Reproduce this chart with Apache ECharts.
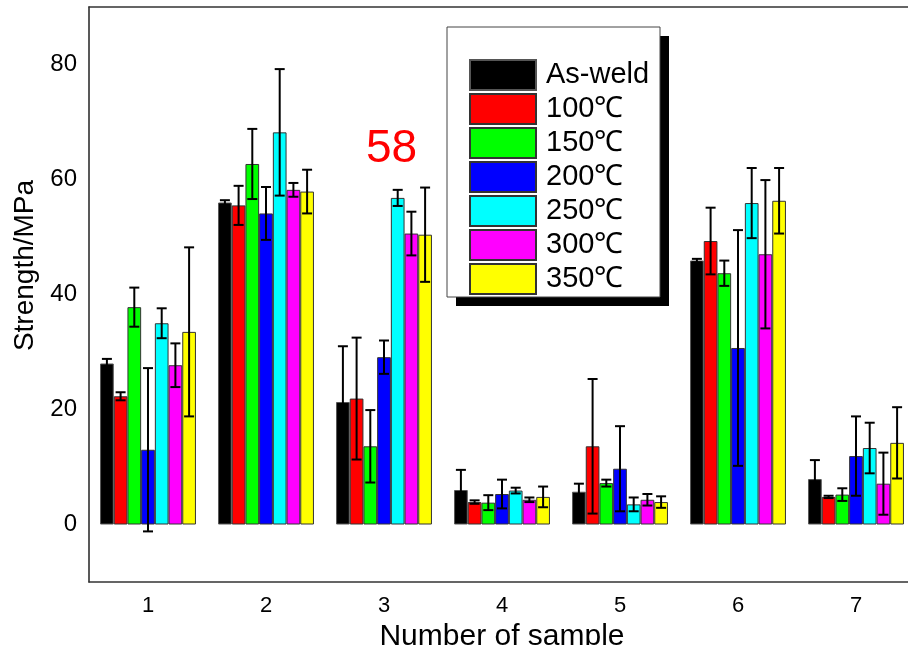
<!DOCTYPE html>
<html>
<head>
<meta charset="utf-8">
<script src="https://cdn.jsdelivr.net/npm/echarts@6/dist/echarts.min.js"></script>
<style>
  html, body { margin: 0; padding: 0; background: #fff; }
  #chart { width: 908px; height: 645px; }
</style>
</head>
<body>
<div id="chart"></div>
<script>
// sample numbers on the x axis
const samples = ['1', '2', '3', '4', '5', '6', '7']
const names = ['As-weld', '100\u2103', '150\u2103', '200\u2103', '250\u2103', '300\u2103', '350\u2103']
const colors = ['#000000', '#ff0000', '#00ff00', '#0000ff', '#00ffff', '#ff00ff', '#ffff00']

// mean strength (MPa) for each treatment
const asWeld = [28.0, 56.0, 21.3, 6.0, 5.7, 45.9, 7.9]
const t100 = [22.3, 55.5, 21.9, 3.9, 13.6, 49.3, 4.8]
const t150 = [37.8, 62.7, 13.6, 3.8, 7.2, 43.7, 5.2]
const t200 = [13.0, 54.1, 29.1, 5.3, 9.7, 30.7, 11.9]
const t250 = [35.0, 68.2, 56.8, 5.9, 3.5, 55.9, 13.3]
const t300 = [27.7, 58.2, 50.6, 4.3, 4.3, 47.0, 7.1]
const t350 = [33.5, 57.9, 50.4, 4.8, 3.9, 56.3, 14.2]

// error (+/-) for each treatment
const errAsWeld = [0.8, 0.4, 9.7, 3.5, 1.4, 0.3, 3.3]
const err100 = [0.7, 3.4, 10.6, 0.3, 11.7, 5.8, 0.2]
const err150 = [3.4, 6.1, 6.3, 1.3, 0.6, 2.2, 1.1]
const err200 = [14.2, 4.6, 2.9, 2.5, 7.4, 20.5, 6.9]
const err250 = [2.6, 11.0, 1.4, 0.5, 1.2, 6.1, 4.4]
const err300 = [3.8, 1.2, 3.8, 0.4, 1.0, 12.9, 5.4]
const err350 = [14.7, 3.8, 8.2, 1.8, 1.0, 5.7, 6.2]

const yTicks = [0, 20, 40, 60, 80]

const values = [asWeld, t100, t150, t200, t250, t300, t350]
const errors = [errAsWeld, err100, err150, err200, err250, err300, err350]

const barW = 13.7
const font = 'Liberation Sans, Arial, sans-serif'

const chart = echarts.init(document.getElementById('chart'))

const barSeries = names.map((n, i) => ({
  name: n,
  type: 'bar',
  data: values[i],
  barWidth: barW,
  barGap: '0%',
  itemStyle: {
    color: colors[i],
    borderColor: i === 0 ? '#555' : '#333',
    borderWidth: 1
  },
  z: 2
}))

// error bars, one custom series per treatment, shifted to its bar
const errSeries = names.map((n, i) => ({
  type: 'custom',
  name: n + '-err',
  data: values[i].map((v, k) => [k, v, errors[i][k]]),
  encode: { x: 0, y: 1 },
  z: 5,
  silent: true,
  renderItem: function (params, api) {
    const k = api.value(0)
    const v = api.value(1)
    const e = api.value(2)
    const c = api.coord([k, v])
    const x = c[0] + (i - 3) * barW
    const hi = api.coord([k, v + e])[1]
    const lo = api.coord([k, v - e])[1]
    const cap = 5
    const st = { stroke: '#000', lineWidth: 2 }
    return {
      type: 'group',
      children: [
        { type: 'line', shape: { x1: x, y1: hi, x2: x, y2: lo }, style: st },
        { type: 'line', shape: { x1: x - cap, y1: hi, x2: x + cap, y2: hi }, style: st },
        { type: 'line', shape: { x1: x - cap, y1: lo, x2: x + cap, y2: lo }, style: st }
      ]
    }
  }
}))

chart.setOption({
  animation: false,
  textStyle: { fontFamily: font },
  grid: {
    left: 89,
    top: 7,
    width: 826,
    bottom: 63,
    outerBoundsMode: 'none',
    containLabel: false
  },
  legend: {
    data: names,
    orient: 'vertical',
    left: 447,
    top: 27,
    icon: 'rect',
    itemWidth: 66,
    itemHeight: 30,
    itemGap: 2,
    padding: [32, 10, 1, 22],
    selectedMode: false,
    z: 10,
    textStyle: { fontSize: 29, color: '#000', fontFamily: font, padding: [0, 0, 0, 5] }
  },
  xAxis: [
    {
      type: 'category',
      data: samples,
      name: 'Number of sample',
      nameLocation: 'middle',
      nameGap: 31,
      nameTextStyle: { fontSize: 30, color: '#000', fontFamily: font },
      axisLine: { onZero: false, lineStyle: { color: '#333', width: 1.5 } },
      axisTick: { inside: true, length: 6, lineStyle: { color: '#222' } },
      axisLabel: { fontSize: 22, color: '#000', margin: 13 }
    },
    {
      // top frame line
      type: 'category',
      data: samples,
      position: 'top',
      axisLine: { onZero: false, lineStyle: { color: '#333', width: 1.5 } },
      axisTick: { show: false },
      axisLabel: { show: false }
    }
  ],
  yAxis: [
    {
      type: 'value',
      min: -10,
      max: 90,
      interval: 10,
      name: 'Strength/MPa',
      nameLocation: 'middle',
      nameGap: 50,
      nameTextStyle: { fontSize: 28, color: '#000', fontFamily: font, padding: [0, 0, 0, 58] },
      splitLine: { show: false },
      axisLine: { show: true, lineStyle: { color: '#222', width: 1.5 } },
      axisTick: { inside: true, length: 6, lineStyle: { color: '#000', width: 1 } },
      axisLabel: {
        fontSize: 24,
        color: '#000',
        margin: 12,
        formatter: v => (yTicks.indexOf(v) >= 0 ? String(v) : '')
      }
    },
    {
      // longer major ticks
      type: 'value',
      position: 'left',
      min: -10,
      max: 90,
      interval: 10,
      splitLine: { show: false },
      axisLine: { show: false },
      axisLabel: { show: false },
      axisTick: { inside: true, length: 11, customValues: yTicks, lineStyle: { color: '#000', width: 1 } }
    }
  ],
  graphic: [
    // legend frame with hard black shadow
    {
      type: 'rect',
      z: 8,
      shape: { x: 456, y: 36, width: 213, height: 270 },
      style: { fill: '#000' }
    },
    {
      type: 'rect',
      z: 9,
      shape: { x: 447, y: 27, width: 213, height: 270 },
      style: { fill: '#fff', stroke: '#444', lineWidth: 1 }
    },
    {
      type: 'text',
      left: 366,
      top: 126,
      style: { text: '58', fontSize: 46, fill: '#ff0000', fontFamily: font }
    }
  ],
  series: barSeries.concat(errSeries)
})
</script>
</body>
</html>
